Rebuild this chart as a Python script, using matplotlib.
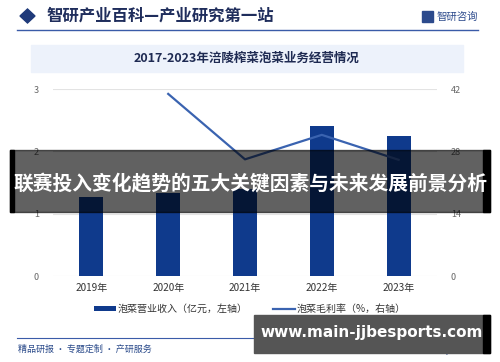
import matplotlib
matplotlib.use("Agg")
import matplotlib.pyplot as plt
import numpy as np
from matplotlib.patches import Rectangle, Polygon
from matplotlib.lines import Line2D

plt.rcParams['font.family'] = ['Noto Sans CJK SC', 'DejaVu Sans']

years = ["2019年", "2020年", "2021年", "2022年", "2023年"]
revenue = [1.26, 1.33, 1.39, 2.40, 2.25]
margin = [np.nan, 40.9, 26.2, 31.7, 26.1]
left_ticks = [0, 1, 2, 3]
right_ticks = [0, 14, 28, 42]

W, H = 500, 362
fig = plt.figure(figsize=(W / 100, H / 100), dpi=100)
fig.patch.set_facecolor("white")

def fx(x):
    return x / W

def fy(y):
    return 1 - y / H

# header
fig.add_artist(Polygon([(fx(20), fy(16)), (fx(27.5), fy(9)), (fx(35), fy(16)), (fx(27.5), fy(23))],
                       closed=True, transform=fig.transFigure, color="#1f3a7a"))
fig.text(fx(46), fy(16), "智研产业百科—产业研究第一站", fontsize=11.8, fontweight="bold",
         color="#1f2d5c", va="center", ha="left")
fig.add_artist(Line2D([fx(17), fx(478)], [fy(30), fy(30)], transform=fig.transFigure,
                      color="#3a5ba8", lw=1.0))
fig.add_artist(Rectangle((fx(422), fy(22)), fx(11), 11 / H, transform=fig.transFigure,
                         color="#2c4a8c"))
fig.text(fx(437), fy(17), "智研咨询", fontsize=7.5, color="#2c4a8c", va="center", ha="left")

# title box
fig.add_artist(Rectangle((fx(31), fy(72)), fx(432), 27 / H, transform=fig.transFigure,
                         color="#edf2fb", zorder=0))
fig.text(fx(247), fy(58.5), "2017-2023年涪陵榨菜泡菜业务经营情况", fontsize=9, fontweight="bold",
         color="#1e2a52", va="center", ha="center")

# main axes
ax = fig.add_axes([fx(53), fy(276), fx(384), 187 / H])
x = np.arange(len(years))
ax.bar(x, revenue, width=0.31, color="#0f3a8c", zorder=2, label="泡菜营业收入（亿元，左轴）")
ax.set_ylim(0, 3)
ax.set_xlim(-0.5, len(years) - 0.5)
ax.set_yticks(left_ticks)
ax.set_xticks(x)
ax.set_xticklabels(years, fontsize=7.2, color="#333333")
ax.tick_params(axis="y", labelsize=6.5, colors="#666666", length=0, pad=10)
ax.tick_params(axis="x", length=0, pad=5)
ax.grid(axis="y", color="#e3e3e3", lw=0.8, zorder=0)
for s in ax.spines.values():
    s.set_visible(False)

ax2 = ax.twinx()
ax2.plot(x, margin, color="#3a63b0", lw=1.6, zorder=3, label="泡菜毛利率（%，右轴）")
ax2.set_ylim(0, 42)
ax2.set_yticks(right_ticks)
ax2.tick_params(axis="y", labelsize=6.5, colors="#666666", length=0, pad=10)
for s in ax2.spines.values():
    s.set_visible(False)

# legend
h1, l1 = ax.get_legend_handles_labels()
h2, l2 = ax2.get_legend_handles_labels()
leg = fig.legend(h1 + h2, l1 + l2, loc="center", bbox_to_anchor=(fx(250), fy(309)), ncol=2,
                 frameon=False, fontsize=7.2, handlelength=2.2, handleheight=0.5,
                 columnspacing=2.5, handletextpad=0.2, labelcolor="#333333")

# footer
fig.add_artist(Line2D([fx(17), fx(478)], [fy(338), fy(338)], transform=fig.transFigure,
                      color="#3a5ba8", lw=0.8))
fig.text(fx(18), fy(349.5), "精品研报 · 专题定制 · 产研服务", fontsize=6.5, color="#2a4a8a",
         va="center", ha="left")
fig.text(fx(476), fy(351), "www.chyxx.com", fontsize=5, color="#2a4a8a", va="center", ha="right",
         family="DejaVu Serif")

# overlay banner
fig.add_artist(Rectangle((fx(10), fy(212)), fx(480), 62 / H, transform=fig.transFigure,
                         color="black", alpha=0.62, zorder=10))
fig.add_artist(Rectangle((fx(10), fy(212)), fx(4), 62 / H, transform=fig.transFigure,
                         color="black", zorder=11))
fig.add_artist(Rectangle((fx(483), fy(212)), fx(7), 62 / H, transform=fig.transFigure,
                         color="black", zorder=11))
fig.text(fx(250), fy(184), "联赛投入变化趋势的五大关键因素与未来发展前景分析", fontsize=14.2,
         fontweight="bold", color="white", va="center", ha="center", zorder=12)

# overlay url box
fig.add_artist(Rectangle((fx(254), fy(353)), fx(236), 38 / H, transform=fig.transFigure,
                         color="#555555", alpha=1.0, zorder=10))
fig.add_artist(Rectangle((fx(483), fy(353)), fx(7), 38 / H, transform=fig.transFigure,
                         color="black", zorder=11))
fig.text(fx(372), fy(333), "www.main-jjbesports.com", fontsize=11, fontweight="bold",
         color="white", va="center", ha="center", zorder=12, family="DejaVu Sans")

fig.savefig("out.png", dpi=100)
